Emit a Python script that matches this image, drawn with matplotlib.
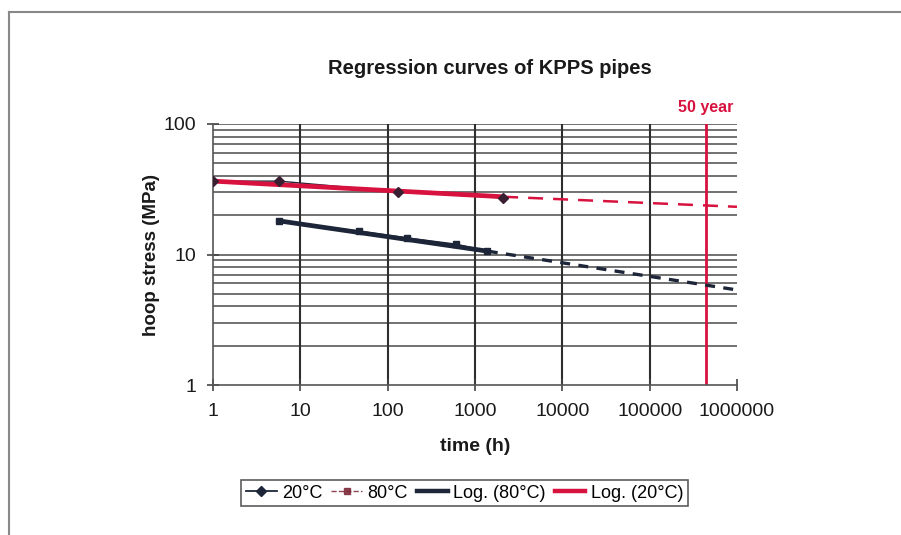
import matplotlib
matplotlib.use("Agg")
import matplotlib.pyplot as plt
from matplotlib.lines import Line2D
from matplotlib.ticker import FixedLocator, NullFormatter, FixedFormatter

plt.rcParams['font.family'] = ['Liberation Sans', 'DejaVu Sans']

# ---- data ----
t_20 = [1, 5.7, 130, 2100]
s_20 = [36.5, 36.5, 30.3, 27.1]
t_80 = [5.7, 47, 167, 610, 1380]
s_80 = [18.1, 15.1, 13.4, 12.0, 10.6]

# trend lines: [start, end of data, extrapolated end]
trend20_t = [1, 2100, 1e6]
trend20_s = [36.5, 27.7, 23.2]
trend80_t = [5.7, 1400, 1e6]
trend80_s = [18.1, 10.6, 5.35]

fifty_year_h = 50 * 8760
x_ticks = [1, 10, 100, 1000, 10000, 100000, 1000000]
x_tick_labels = ['1', '10', '100', '1000', '10000', '100000', '1000000']
y_ticks = [1, 10, 100]
y_tick_labels = ['1', '10', '100']

red = '#d8123e'
navy = '#1d2638'
maroon = '#7a2436'

fig = plt.figure(figsize=(9.01, 5.35), dpi=100)
ax = fig.add_axes([213/901, 1-385/535, (737-213)/901, (385-124)/535])
ax.set_xscale('log')
ax.set_yscale('log')
ax.set_xlim(1, 1e6)
ax.set_ylim(1, 100)

# grid
for v in [2, 3, 4, 5, 6, 7, 8, 9, 20, 30, 40, 50, 60, 70, 80, 90, 10, 100]:
    ax.axhline(v, color='#4a4a4a', lw=1.1, zorder=1)
for v in x_ticks[1:-1]:
    ax.axvline(v, color='#2e2e2e', lw=1.5, zorder=1)

# 50-year line
ax.axvline(fifty_year_h, color=red, lw=2, zorder=2)
ax.text(fifty_year_h, 1.035, '50 year', transform=ax.get_xaxis_transform(),
        ha='center', va='bottom', color=red, fontsize=11.5, fontweight='bold')

# data series lines (hidden under trend lines)
ax.plot(t_20, s_20, color=navy, lw=1, zorder=2.5)
ax.plot(t_80, s_80, color=navy, lw=1, zorder=2.5)

# trend lines
ax.plot(trend20_t[:2], trend20_s[:2], color=red, lw=3.4, solid_capstyle='butt', zorder=3)
ax.plot(trend20_t[1:], trend20_s[1:], color=red, lw=1.8, dashes=(6, 4), zorder=3)
ax.plot(trend80_t[:2], trend80_s[:2], color=navy, lw=3.4, solid_capstyle='butt', zorder=3)
ax.plot(trend80_t[1:], trend80_s[1:], color=navy, lw=2.4, dashes=(3, 2.5), zorder=3)

# data markers
ax.plot(t_20, s_20, ls='none', color='#3a1f33', marker='D', ms=5, zorder=4)
ax.plot(t_80, s_80, ls='none', color=navy, marker='s', ms=5, zorder=4)

# axes styling
for sp in ['top', 'right']:
    ax.spines[sp].set_visible(False)
for sp in ['left', 'bottom']:
    ax.spines[sp].set_color('#555555')
    ax.spines[sp].set_linewidth(1.2)
ax.xaxis.set_major_locator(FixedLocator(x_ticks))
ax.xaxis.set_major_formatter(FixedFormatter(x_tick_labels))
ax.xaxis.set_minor_locator(FixedLocator([]))
ax.yaxis.set_major_locator(FixedLocator(y_ticks))
ax.yaxis.set_major_formatter(FixedFormatter(y_tick_labels))
ax.yaxis.set_minor_locator(FixedLocator([]))
ax.xaxis.set_minor_formatter(NullFormatter())
ax.yaxis.set_minor_formatter(NullFormatter())
ax.tick_params(axis='both', direction='inout', length=8, width=1.2, color='#444444',
               labelsize=14, labelcolor='#1a1a1a')
ax.tick_params(axis='x', pad=9)
ax.tick_params(axis='y', pad=8)

ax.set_xlabel('time (h)', fontsize=14, fontweight='bold', labelpad=13, color='#1a1a1a')
ax.set_ylabel('hoop stress (MPa)', fontsize=13.5, fontweight='bold', labelpad=3, color='#1a1a1a')

fig.text(490/901, 1-68/535, 'Regression curves of KPPS pipes', ha='center', va='center',
         fontsize=14.5, fontweight='bold', color='#1a1a1a')

handles = [
    Line2D([], [], color=navy, lw=1.3, marker='D', ms=5),
    Line2D([], [], color=maroon, lw=1, ls='--', marker='s', ms=5, alpha=0.85),
    Line2D([], [], color=navy, lw=3.2),
    Line2D([], [], color=red, lw=3.2),
]
labels = ['20°C', '80°C', 'Log. (80°C)', 'Log. (20°C)']
leg = fig.legend(handles, labels, loc='center', bbox_to_anchor=(464.5/901, 1-493/535),
                 ncol=4, fontsize=13, frameon=True, fancybox=False, handlelength=1.7,
                 handletextpad=0.3, columnspacing=0.5, borderpad=0.25, borderaxespad=0)
leg.get_frame().set_edgecolor('#333333')
leg.get_frame().set_linewidth(1.2)

# outer frame lines (top and left)
fig.add_artist(Line2D([9/901, 9/901], [0, 1-12/535], color='#888888', lw=1.5))
fig.add_artist(Line2D([9/901, 1], [1-12/535, 1-12/535], color='#888888', lw=1.5))

fig.savefig('out.png', dpi=100)
